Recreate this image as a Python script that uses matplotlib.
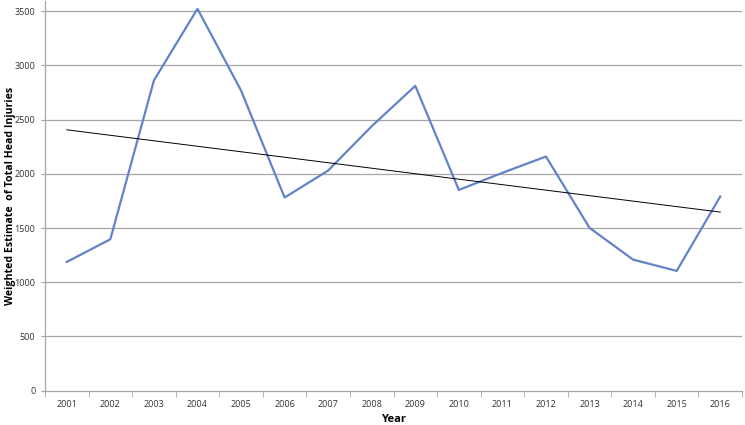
import matplotlib.pyplot as plt
import numpy as np

plt.rcParams['font.family'] = ['Open Sans', 'DejaVu Sans']

years = ['2001', '2002', '2003', '2004', '2005', '2006', '2007', '2008',
         '2009', '2010', '2011', '2012', '2013', '2014', '2015', '2016']
injuries = [1188, 1397, 2862, 3523, 2769, 1782, 2031, 2440,
            2812, 1852, 2010, 2160, 1502, 1209, 1105, 1791]

x = np.arange(len(years))
coef = np.polyfit(x, injuries, 1)
trend = np.polyval(coef, x)

fig = plt.figure(figsize=(7.45, 4.25), dpi=100)
ax = fig.add_axes([0.0604, 0.0807, 0.9356, 0.917])

for yv in range(500, 4000, 500):
    ax.axhline(yv, color='#a6a6a6', lw=0.9, zorder=1)

ax.plot(x, injuries, color='#6283c8', lw=1.6, zorder=3)
ax.plot(x, trend, color='black', lw=0.7, zorder=4)

ax.set_xlim(-0.5, len(years) - 0.5)
ax.set_ylim(0, 3595)
ax.set_yticks(range(0, 4000, 500))
ax.set_xticks(x)
ax.set_xticklabels(years)
ax.set_xticks(np.arange(-0.5, len(years), 1), minor=True)
ax.tick_params(axis='x', which='major', length=0, pad=7, labelsize=6.5, labelcolor='#333333')
ax.tick_params(axis='x', which='minor', length=4, direction='out', color='#a6a6a6')
ax.tick_params(axis='y', length=3, direction='out', color='#a6a6a6', labelsize=6.5,
               labelcolor='#333333', pad=4)

for s in ['top', 'right']:
    ax.spines[s].set_visible(False)
for s in ['left', 'bottom']:
    ax.spines[s].set_color('#a6a6a6')
    ax.spines[s].set_linewidth(0.9)

ax.set_xlabel('Year', fontsize=8, fontweight='bold', labelpad=3)
ax.set_ylabel('Weighted Estimate  of Total Head Injuries', fontsize=7.6, fontweight='bold',
              va='center')
ax.yaxis.set_label_coords(-0.05, 0.5)

fig.savefig('out.png', dpi=100)
